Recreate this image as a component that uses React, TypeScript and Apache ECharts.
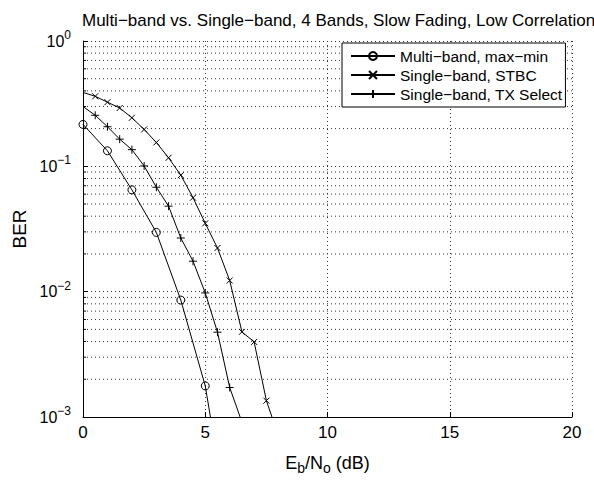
import React, { useEffect, useRef } from "react";
import * as echarts from "echarts";

const titleText = "Multi\u2212band vs. Single\u2212band, 4 Bands, Slow Fading, Low Correlation";
const seriesNames = ["Multi\u2212band, max\u2212min", "Single\u2212band, STBC", "Single\u2212band, TX Select"];

const xMulti = [0, 1, 2, 3, 4, 5, 6];
const berMulti = [0.216, 0.133, 0.0649, 0.0297, 0.00857, 0.00177, 0.00012];

const xSTBC = [0, 0.5, 1, 1.5, 2, 2.5, 3, 3.5, 4, 4.5, 5, 5.5, 6, 6.5, 7, 7.5, 8];
const berSTBC = [0.389, 0.362, 0.325, 0.292, 0.244, 0.197, 0.155, 0.117, 0.085, 0.0562, 0.0351, 0.0223, 0.01228, 0.00478, 0.00397, 0.00135, 0.0007];

const xTX = [0, 0.5, 1, 1.5, 2, 2.5, 3, 3.5, 4, 4.5, 5, 5.5, 6, 6.5];
const berTX = [0.3, 0.2555, 0.207, 0.1648, 0.1358, 0.1007, 0.0681, 0.0481, 0.0268, 0.0175, 0.00977, 0.00475, 0.00172, 0.00091];

const minorGrid = [
  0.002, 0.003, 0.004, 0.005, 0.006, 0.007, 0.008, 0.009,
  0.02, 0.03, 0.04, 0.05, 0.06, 0.07, 0.08, 0.09,
  0.2, 0.3, 0.4, 0.5, 0.6, 0.7, 0.8, 0.9,
];

const FONT = "'Liberation Sans', Arial, Helvetica, sans-serif";
const MINUS = "\u2212";

function pairs(xs: number[], ys: number[], hideFirst: boolean) {
  return xs.map((x, i) => (hideFirst && i === 0 ? { value: [x, ys[i]], symbol: "none" } : [x, ys[i]]));
}

export default function App() {
  const ref = useRef<HTMLDivElement>(null);
  useEffect(() => {
    if (!ref.current) return;
    const chart = echarts.init(ref.current, null, { renderer: "svg" });
    const dotted = { color: "#333", width: 1, type: [1, 3] as any };
    const lineBase = {
      type: "line" as const,
      lineStyle: { color: "#000", width: 1 },
      itemStyle: { color: "transparent", borderColor: "#000", borderWidth: 1 },
      clip: true,
      z: 5,
    };
    chart.setOption({
      animation: false,
      backgroundColor: "#fff",
      textStyle: { fontFamily: FONT },
      title: {
        text: titleText,
        left: 77,
        top: 7,
        textStyle: { fontFamily: FONT, fontSize: 17, fontWeight: "normal", color: "#000" },
      },
      grid: { left: 83, right: 22, top: 41, bottom: 56, containLabel: false },
      legend: {
        data: seriesNames,
        orient: "vertical",
        left: 342,
        top: 43,
        padding: [5, 3, 5, 8],
        itemGap: 3,
        itemWidth: 44,
        itemHeight: 10,
        backgroundColor: "#fff",
        borderColor: "#000",
        borderWidth: 1,
        textStyle: { fontFamily: FONT, fontSize: 15.5, color: "#000" },
      },
      xAxis: {
        type: "value",
        min: 0,
        max: 20,
        interval: 5,
        name: "{n|E}{s|b}{n|/N}{s|o}{n| (dB)}",
        nameLocation: "middle",
        nameGap: 33,
        nameTextStyle: {
          rich: {
            n: { fontFamily: FONT, fontSize: 18, color: "#000" },
            s: { fontFamily: FONT, fontSize: 14, color: "#000", padding: [11, 0, 0, 0] },
          },
        },
        axisLine: { show: true, onZero: false, lineStyle: { color: "#000", width: 1 } },
        axisTick: { show: true, inside: true, length: 5, lineStyle: { color: "#000" } },
        axisLabel: { fontFamily: FONT, fontSize: 17, color: "#000", margin: 7 },
        splitLine: { show: true, lineStyle: dotted },
      },
      yAxis: {
        type: "log",
        logBase: 10,
        min: 0.001,
        max: 1,
        name: "BER",
        nameLocation: "middle",
        nameGap: 52,
        nameTextStyle: { fontFamily: FONT, fontSize: 19, color: "#000" },
        axisLine: { show: true, lineStyle: { color: "#000", width: 1 } },
        axisTick: { show: true, inside: true, length: 5, lineStyle: { color: "#000" } },
        axisLabel: {
          margin: 12,
          formatter: (v: number) => {
            const e = Math.round(Math.log10(v));
            return "{b|10}{e|" + (e < 0 ? MINUS + Math.abs(e) : String(e)) + "}";
          },
          rich: {
            b: { fontFamily: FONT, fontSize: 16, color: "#000" },
            e: { fontFamily: FONT, fontSize: 12, color: "#000", padding: [0, 0, 12, 0] },
          },
        },
        splitLine: { show: true, lineStyle: dotted },
      },
      series: [
        {
          type: "custom",
          coordinateSystem: "cartesian2d",
          silent: true,
          z: 1,
          data: minorGrid.map((v) => [0, v]),
          renderItem: (_p: any, api: any) => {
            const v = api.value(1);
            const a = api.coord([0, v]);
            const b = api.coord([20, v]);
            return {
              type: "group",
              children: [
                {
                  type: "line",
                  shape: { x1: a[0], y1: a[1], x2: b[0], y2: b[1] },
                  style: { stroke: "#333", lineWidth: 1, lineDash: [1, 3] },
                },
                {
                  type: "line",
                  shape: { x1: a[0], y1: a[1], x2: a[0] + 3, y2: a[1] },
                  style: { stroke: "#000", lineWidth: 1 },
                },
              ],
            };
          },
        },
        {
          ...lineBase,
          name: seriesNames[0],
          symbol: "circle",
          symbolSize: 8,
          data: pairs(xMulti, berMulti, false),
        },
        {
          ...lineBase,
          name: seriesNames[1],
          symbol: "path://M0,0L10,10M0,10L10,0",
          symbolSize: 6,
          data: pairs(xSTBC, berSTBC, true),
        },
        {
          ...lineBase,
          name: seriesNames[2],
          symbol: "path://M5,0L5,10M0,5L10,5",
          symbolSize: 8,
          data: pairs(xTX, berTX, true),
        },
      ],
    });
    return () => chart.dispose();
  }, []);
  return (
    <div
      ref={ref}
      style={{ position: "absolute", left: 0, top: 0, width: 594, height: 480 }}
    />
  );
}
